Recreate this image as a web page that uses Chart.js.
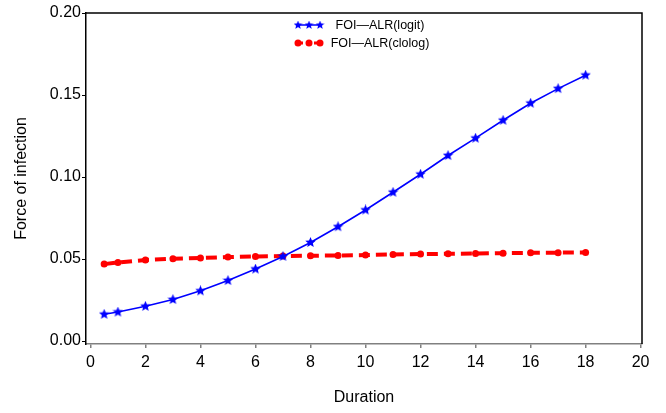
<!DOCTYPE html>
<html>
<head>
<meta charset="utf-8">
<script src="https://cdn.jsdelivr.net/npm/chart.js@4.4.1/dist/chart.umd.min.js"></script>
<style>
    html, body { margin: 0; padding: 0; background: #fff; }
    #wrap { width: 666px; height: 413px; position: relative; }
</style>
</head>
<body>
<div id="wrap"><canvas id="chart"></canvas></div>
<script>
// Datos del gráfico
const duration = [0.5, 1, 2, 3, 4, 5, 6, 7, 8, 9, 10, 11, 12, 13, 14, 15, 16, 17, 18];
const foiLogit = [0.0163, 0.0177, 0.0212, 0.0253, 0.0306, 0.0369, 0.0439, 0.0516, 0.0601, 0.0697,
    0.0799, 0.0907, 0.1017, 0.1131, 0.1237, 0.1346, 0.1450, 0.1539, 0.1621];
const foiCloglog = [0.0469, 0.0479, 0.0494, 0.0502, 0.0506, 0.0512, 0.0516, 0.0518, 0.0520, 0.0522,
    0.0524, 0.0528, 0.0530, 0.0532, 0.0534, 0.0536, 0.0538, 0.0539, 0.0540];
const xTicks = [0, 2, 4, 6, 8, 10, 12, 14, 16, 18, 20];
const yTicks = [0, 0.05, 0.10, 0.15, 0.20];
const seriesNames = ['FOI\u2014ALR(logit)', 'FOI\u2014ALR(clolog)'];

const FONT = 'Liberation Sans, Arial, Helvetica, sans-serif';

// Estrella rellena para los puntos
function makeStar(size, color) {
    const c = document.createElement('canvas');
    c.width = size;
    c.height = size;
    const ctx = c.getContext('2d');
    const cx = size / 2, cy = size / 2;
    const outer = size / 2, inner = outer * 0.45;
    ctx.beginPath();
    for (let i = 0; i < 10; i++) {
        const r = i % 2 === 0 ? outer : inner;
        const a = -Math.PI / 2 + i * Math.PI / 5;
        const px = cx + r * Math.cos(a), py = cy + r * Math.sin(a);
        if (i === 0) ctx.moveTo(px, py); else ctx.lineTo(px, py);
    }
    ctx.closePath();
    ctx.fillStyle = color;
    ctx.fill();
    return c;
}
const starImg = makeStar(11, '#0000ff');

// Marco superior y derecho
const framePlugin = {
    id: 'frame',
    afterDraw(chart) {
        const { ctx, chartArea: a } = chart;
        ctx.save();
        ctx.strokeStyle = '#000';
        ctx.lineWidth = 1.5;
        ctx.beginPath();
        ctx.moveTo(a.left, a.top);
        ctx.lineTo(a.right, a.top);
        ctx.lineTo(a.right, a.bottom);
        ctx.stroke();
        ctx.restore();
    }
};

// Leyenda dentro del área
const legendPlugin = {
    id: 'insideLegend',
    afterDraw(chart) {
        const ctx = chart.ctx;
        const rows = [
            { y: 25, color: '#0000ff', width: 1.5, dash: [], marker: 'star', text: seriesNames[0] },
            { y: 43, color: '#ff0000', width: 3, dash: [5, 3], marker: 'dot', text: seriesNames[1] }
        ];
        ctx.save();
        rows.forEach(r => {
            ctx.strokeStyle = r.color;
            ctx.lineWidth = r.width;
            ctx.setLineDash(r.dash);
            ctx.beginPath();
            ctx.moveTo(298, r.y);
            ctx.lineTo(320, r.y);
            ctx.stroke();
            ctx.setLineDash([]);
            [298, 309, 320].forEach(px => {
                if (r.marker === 'star') {
                    ctx.drawImage(starImg, px - 4.5, r.y - 4.5, 9, 9);
                } else {
                    ctx.fillStyle = r.color;
                    ctx.beginPath();
                    ctx.arc(px, r.y, 3.5, 0, Math.PI * 2);
                    ctx.fill();
                }
            });
            ctx.fillStyle = '#000';
            ctx.font = '12.5px ' + FONT;
            ctx.textBaseline = 'middle';
            ctx.textAlign = 'center';
            ctx.fillText(r.text, 380, r.y + 1);
        });
        ctx.restore();
    }
};

const ctx = document.getElementById('chart').getContext('2d');
new Chart(ctx, {
    type: 'line',
    data: {
        datasets: [
            {
                label: seriesNames[0],
                data: duration.map((d, i) => ({ x: d, y: foiLogit[i] })),
                borderColor: '#0000ff',
                backgroundColor: '#0000ff',
                borderWidth: 1.6,
                pointStyle: starImg,
                pointRadius: 5,
                tension: 0
            },
            {
                label: seriesNames[1],
                data: duration.map((d, i) => ({ x: d, y: foiCloglog[i] })),
                borderColor: '#ff0000',
                backgroundColor: '#ff0000',
                borderWidth: 4,
                borderDash: [11, 6],
                pointStyle: 'circle',
                pointRadius: 3.5,
                pointBorderWidth: 0,
                tension: 0
            }
        ]
    },
    options: {
        responsive: true,
        maintainAspectRatio: false,
        animation: false,
        layout: { padding: { top: 13, right: 24, left: 0, bottom: 0 } },
        plugins: {
            legend: { display: false },
            tooltip: { enabled: false }
        },
        scales: {
            x: {
                type: 'linear',
                min: -0.16,
                max: 20.05,
                afterBuildTicks: axis => { axis.ticks = xTicks.map(v => ({ value: v })); },
                afterFit: axis => { axis.height = 69; },
                border: { color: '#808080', width: 1.5 },
                grid: { drawOnChartArea: false, color: '#808080', tickLength: 4, lineWidth: 1.5 },
                ticks: {
                    color: '#000',
                    padding: 5,
                    maxRotation: 0,
                    font: { family: FONT, size: 16 },
                    callback: v => String(v)
                },
                title: {
                    display: true,
                    text: 'Duration',
                    color: '#000',
                    font: { family: FONT, size: 16 },
                    padding: { top: 0, bottom: 6 }
                }
            },
            y: {
                type: 'linear',
                min: -0.0018,
                max: 0.2,
                afterBuildTicks: axis => { axis.ticks = yTicks.map(v => ({ value: v })); },
                afterFit: axis => { axis.width = 86; },
                border: { color: '#000', width: 1.5 },
                grid: { drawOnChartArea: false, color: '#000', tickLength: 4, lineWidth: 1 },
                ticks: {
                    color: '#000',
                    padding: 1,
                    font: { family: FONT, size: 16 },
                    callback: v => v.toFixed(2)
                },
                title: {
                    display: true,
                    text: 'Force of infection',
                    color: '#000',
                    font: { family: FONT, size: 16 },
                    padding: { top: 12, bottom: 0 }
                }
            }
        }
    },
    plugins: [framePlugin, legendPlugin]
});
</script>
</body>
</html>
